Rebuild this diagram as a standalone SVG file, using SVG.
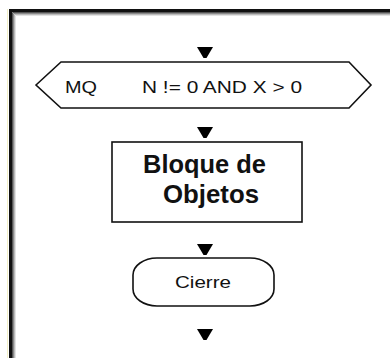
<svg xmlns="http://www.w3.org/2000/svg" width="390" height="358" viewBox="0 0 390 358">
  <style>
    .shape { fill: #ffffff; stroke: #111111; stroke-width: 1.6; }
    .arrow { fill: #000000; stroke: none; }
    .txt { font-family: "Liberation Sans", Arial, sans-serif; fill: #111111; }
    .bold { font-weight: bold; }
  </style>
  <defs>
    <polygon id="arr" points="-8,0 8,0 1.5,11 -1.5,11" />
  </defs>
  <rect x="0" y="0" width="390" height="358" fill="#ffffff"/>
  <g id="frame">
    <line x1="7.5" y1="9" x2="7.5" y2="358" stroke="#f3f0c8" stroke-width="1"/>
    <path d="M 10.5 358 L 10.5 10.5 L 390 10.5" fill="none" stroke="#111111" stroke-width="3"/>
    <path d="M 12.5 358 L 12.5 12.5 L 390 12.5" fill="none" stroke="#555555" stroke-width="1"/>
    <path d="M 13.5 358 L 13.5 13.5 L 390 13.5" fill="none" stroke="#8a8a8a" stroke-width="1"/>
    <path d="M 14.5 358 L 14.5 14.5 L 390 14.5" fill="none" stroke="#bbbbbb" stroke-width="1"/>
    <path d="M 15.5 358 L 15.5 15.5 L 390 15.5" fill="none" stroke="#e2e2e2" stroke-width="1"/>
  </g>
  <g id="connectors">
    <use href="#arr" x="205" y="47" class="arrow"/>
    <use href="#arr" x="205" y="127" class="arrow"/>
    <use href="#arr" x="205" y="244" class="arrow"/>
    <use href="#arr" x="205" y="329" class="arrow"/>
  </g>
  <g id="node-mq">
    <polygon class="shape" points="36,85 61,62 349,62 371,85 349,108 61,108"/>
    <text class="txt" x="65" y="93" font-size="17" textLength="32" lengthAdjust="spacingAndGlyphs">MQ</text>
    <text class="txt" x="142" y="93" font-size="17" textLength="160" lengthAdjust="spacingAndGlyphs">N != 0 AND X &gt; 0</text>
  </g>
  <g id="node-bloque">
    <rect class="shape" x="112" y="142" width="190" height="80"/>
    <text class="txt bold" x="143" y="173" font-size="26" textLength="123" lengthAdjust="spacingAndGlyphs">Bloque de</text>
    <text class="txt bold" x="163" y="203" font-size="26" textLength="96" lengthAdjust="spacingAndGlyphs">Objetos</text>
  </g>
  <g id="node-cierre">
    <rect class="shape" x="133" y="258" width="141" height="48" rx="24" ry="17"/>
    <text class="txt" x="175" y="288" font-size="17" textLength="56" lengthAdjust="spacingAndGlyphs">Cierre</text>
  </g>
</svg>
